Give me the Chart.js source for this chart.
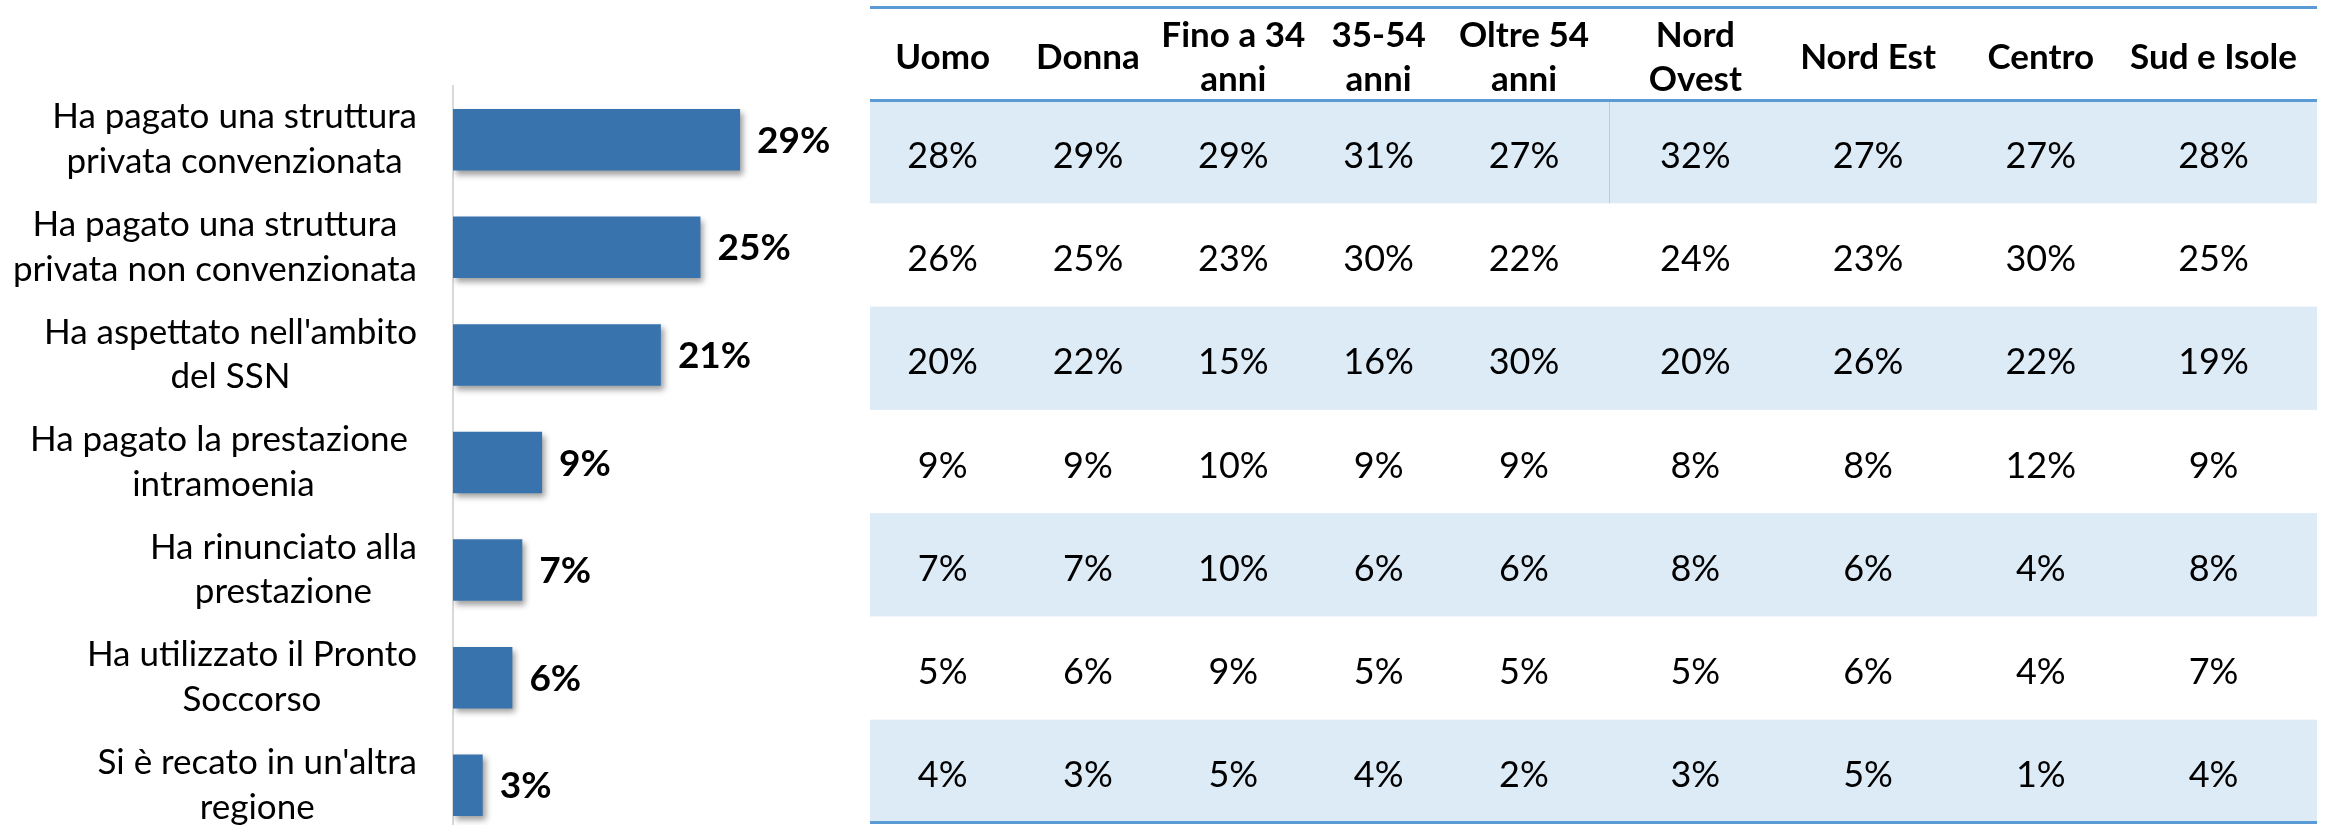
<!DOCTYPE html>
<html>
<head>
<meta charset="utf-8">
<script src="https://cdn.jsdelivr.net/npm/chart.js@4.4.1/dist/chart.umd.min.js"></script>
<style>
  html, body { margin: 0; padding: 0; background: #ffffff; overflow: hidden; }
  #wrap { position: relative; width: 2328px; height: 825px; overflow: hidden; background: #ffffff; }
  canvas { position: absolute; top: 0; }
</style>
</head>
<body>
<div id="wrap">
  <canvas id="bars" width="870" height="845" style="left:0px"></canvas>
  <canvas id="tabA" width="739" height="825" style="left:870px"></canvas>
  <canvas id="tabB" width="708" height="825" style="left:1609px"></canvas>
</div>
<script>
// ---------- DATA ----------
const categories = [
  ["Ha pagato una struttura", "privata convenzionata"],
  ["Ha pagato una struttura", "privata non convenzionata"],
  ["Ha aspettato nell'ambito", "del SSN"],
  ["Ha pagato la prestazione ", "intramoenia"],
  ["Ha rinunciato alla", "prestazione"],
  ["Ha utilizzato il Pronto", "Soccorso"],
  ["Si è recato in un'altra", "regione"]
];
const totale = [29, 25, 21, 9, 7, 6, 3];

const headersDemo = ["Uomo", "Donna", ["Fino a 34", "anni"], ["35-54", "anni"], ["Oltre 54", "anni"]];
const headersArea = [["Nord", "Ovest"], "Nord Est", "Centro", "Sud e Isole"];

const uomo      = [28, 26, 20, 9, 7, 5, 4];
const donna     = [29, 25, 22, 9, 7, 6, 3];
const fino34    = [29, 23, 15, 10, 10, 9, 5];
const eta3554   = [31, 30, 16, 9, 6, 5, 4];
const oltre54   = [27, 22, 30, 9, 6, 5, 2];
const nordOvest = [32, 24, 20, 8, 8, 5, 3];
const nordEst   = [27, 23, 26, 8, 6, 6, 5];
const centro    = [27, 30, 22, 12, 4, 4, 1];
const sudIsole  = [28, 25, 19, 9, 8, 7, 4];

// ---------- STYLE ----------
const FONT = "Lato";
const BAR_COLOR = "#3873AE";
const BAND_COLOR = "#DDEBF7";
const RULE_COLOR = "#5B9BD5";

Chart.defaults.font.family = FONT;
Chart.defaults.color = "#000000";

// ---------- BAR CHART ----------
const barShadow = {
  id: "barShadow",
  beforeDatasetsDraw(chart) {
    const c = chart.ctx;
    c.save();
    c.shadowColor = "rgba(0,0,0,0.38)";
    c.shadowBlur = 6;
    c.shadowOffsetX = 3;
    c.shadowOffsetY = 4;
  },
  afterDatasetsDraw(chart) {
    chart.ctx.restore();
  }
};

const barText = {
  id: "barText",
  afterDraw(chart) {
    const c = chart.ctx;
    const ys = chart.scales.y;
    const left = chart.chartArea.left;
    c.save();
    c.fillStyle = "#000000";
    // category labels: block right-aligned, lines centred
    c.font = "35px " + FONT;
    c.textAlign = "center";
    c.textBaseline = "alphabetic";
    chart.data.labels.forEach((lines, i) => {
      const yc = ys.getPixelForValue(i);
      const w = Math.max(...lines.map(l => c.measureText(l).width));
      const cx = left - 36 - w / 2;
      lines.forEach((l, j) => {
        c.fillText(l, cx, yc + (j - (lines.length - 1) / 2) * 44.6 + 11);
      });
    });
    // value labels
    c.font = "bold 37px " + FONT;
    c.textAlign = "left";
    const meta = chart.getDatasetMeta(0);
    meta.data.forEach((bar, i) => {
      c.fillText(chart.data.datasets[0].data[i] + "%", bar.x + 17, bar.y + 13);
    });
    c.restore();
  }
};

new Chart(document.getElementById("bars"), {
  type: "bar",
  data: {
    labels: categories,
    datasets: [{
      data: totale,
      backgroundColor: BAR_COLOR,
      borderWidth: 0,
      barPercentage: 0.572,
      categoryPercentage: 1
    }]
  },
  options: {
    indexAxis: "y",
    responsive: false,
    animation: false,
    layout: { padding: { left: 453, right: 25, top: 86, bottom: 6 } },
    scales: {
      x: { type: "linear", min: 0, max: 39.6, display: false },
      y: {
        type: "category",
        ticks: { display: false },
        grid: { display: false, drawTicks: false },
        border: { display: true, color: "#D9D9D9", width: 2 }
      }
    },
    plugins: { legend: { display: false }, tooltip: { enabled: false } }
  },
  plugins: [barShadow, barText]
});

// ---------- TABLE ----------
const rowKeys = categories.map(c => c.join(" "));

function makeTable(id, headers, columns, drawDivider) {
  const tablePlugin = {
    id: "tableCells_" + id,
    beforeDraw(chart) {
      const c = chart.ctx;
      const a = chart.chartArea;
      const ys = chart.scales.y;
      const W = chart.width;
      const step = ys.getPixelForValue(1) - ys.getPixelForValue(0);
      c.save();
      c.fillStyle = "#ffffff";
      c.fillRect(0, 0, W, chart.height);
      c.fillStyle = BAND_COLOR;
      for (let i = 0; i < rowKeys.length; i += 2) {
        const yc = ys.getPixelForValue(i);
        c.fillRect(0, yc - step / 2, W, step);
      }
      if (drawDivider) {
        const yc = ys.getPixelForValue(0);
        c.strokeStyle = "#B4CDE8";
        c.lineWidth = 1;
        c.beginPath();
        c.moveTo(0.5, yc - step / 2);
        c.lineTo(0.5, yc + step / 2);
        c.stroke();
      }
      c.strokeStyle = RULE_COLOR;
      c.lineWidth = 3;
      c.beginPath();
      c.moveTo(0, 7.5); c.lineTo(W, 7.5);
      c.moveTo(0, a.top + 0.5); c.lineTo(W, a.top + 0.5);
      c.moveTo(0, a.bottom - 0.5); c.lineTo(W, a.bottom - 0.5);
      c.stroke();
      c.restore();
    },
    afterDraw(chart) {
      const c = chart.ctx;
      const xs = chart.scales.x;
      const ys = chart.scales.y;
      c.save();
      c.fillStyle = "#000000";
      c.font = "36px " + FONT;
      c.textAlign = "center";
      c.textBaseline = "alphabetic";
      columns.forEach((col, j) => {
        const x = xs.getPixelForValue(j);
        col.forEach((v, i) => {
          c.fillText(v + "%", x, ys.getPixelForValue(i) + 16);
        });
      });
      c.restore();
    }
  };

  new Chart(document.getElementById(id), {
    type: "bar",
    data: { labels: headers, datasets: [] },
    options: {
      responsive: false,
      animation: false,
      layout: { padding: { top: 0, bottom: 2, left: 0, right: 0 } },
      scales: {
        x: {
          type: "category",
          position: "top",
          offset: true,
          grid: { display: false, drawTicks: false },
          border: { display: false },
          ticks: {
            autoSkip: false, maxRotation: 0, minRotation: 0,
            padding: 20, color: "#000000",
            crossAlign: "center",
            font: { family: FONT, weight: "bold", size: 35, lineHeight: 1.26 }
          },
          afterFit(scale) { scale.height = 100; }
        },
        y: { type: "category", labels: rowKeys, offset: true, display: false }
      },
      plugins: { legend: { display: false }, tooltip: { enabled: false } }
    },
    plugins: [tablePlugin]
  });
}

makeTable("tabA", headersDemo, [uomo, donna, fino34, eta3554, oltre54], false);
makeTable("tabB", headersArea, [nordOvest, nordEst, centro, sudIsole], true);
</script>
</body>
</html>
